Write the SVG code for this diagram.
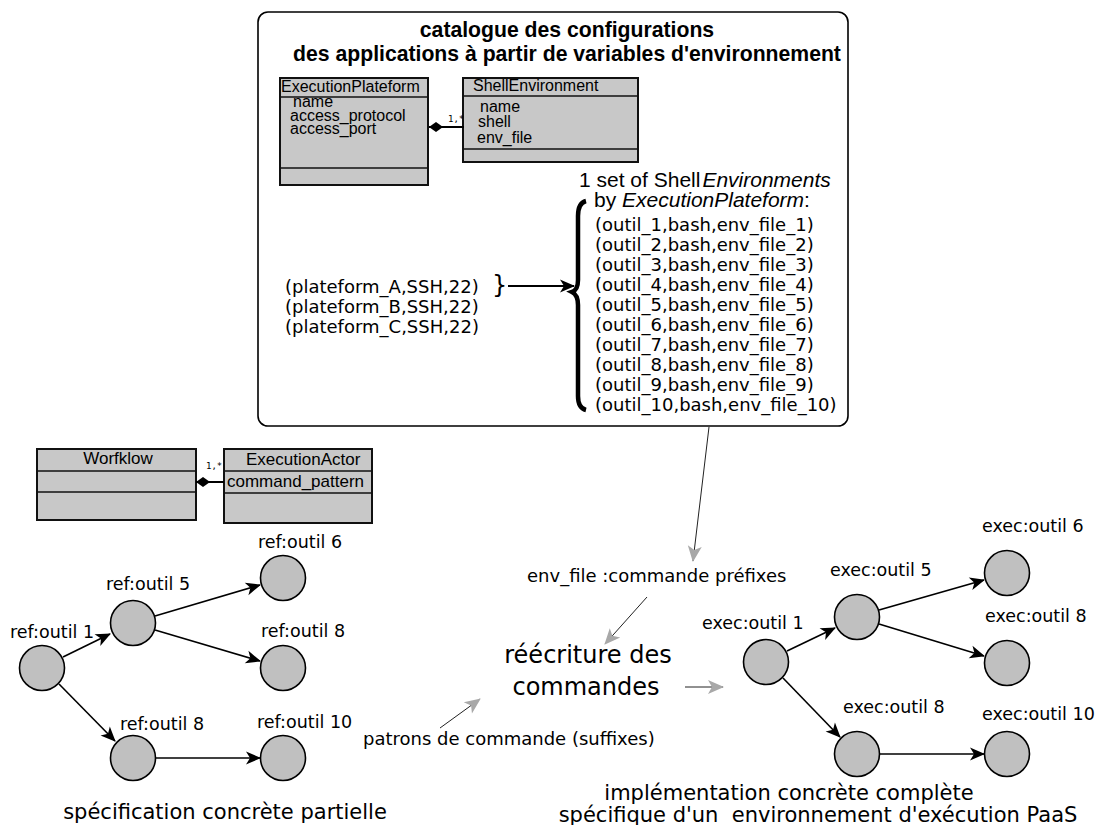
<svg xmlns="http://www.w3.org/2000/svg" width="1098" height="825" viewBox="0 0 1098 825">
<style>
.uml{fill:#c8c8c8;stroke:#111;stroke-width:2}
.sep{stroke:#111;stroke-width:1.6;fill:none}
.ut{font-family:"Liberation Sans",Arial,sans-serif;font-size:16px;fill:#000}
.ut2{font-family:"Liberation Sans",Arial,sans-serif;font-size:17px;fill:#000}
.small{font-family:"DejaVu Sans Mono","Liberation Mono",monospace;font-size:9px;fill:#000}
.dv{font-family:"DejaVu Sans",sans-serif;fill:#000}
.lbl{font-family:"DejaVu Sans",sans-serif;font-size:17.5px;fill:#000}
.node{fill:#c0c0c0;stroke:#000;stroke-width:1.6}
.edge{stroke:#000;stroke-width:1.6;fill:none;marker-end:url(#ah)}
.gedge{stroke:#222;stroke-width:1;fill:none;marker-end:url(#gh)}
</style>
<defs>
<marker id="ah" viewBox="-15 -8 17 16" markerWidth="17" markerHeight="16" markerUnits="userSpaceOnUse" refX="0" refY="0" orient="auto">
<path d="M1,0 L-14,-6.5 L-10,0 L-14,6.5 Z" fill="#000"/>
</marker>
<marker id="gh" viewBox="-16 -8 18 16" markerWidth="18" markerHeight="16" markerUnits="userSpaceOnUse" refX="0" refY="0" orient="auto">
<path d="M1,0 L-15,-7 L-11,0 L-15,7 Z" fill="#a8a8a8"/>
</marker>
<marker id="dia" viewBox="-16 -6 17 12" markerWidth="17" markerHeight="12" markerUnits="userSpaceOnUse" refX="0" refY="0" orient="auto">
<path d="M0,0 L-7,-5 L-14,0 L-7,5 Z" fill="#000"/>
</marker>
</defs>

<g id="catalogue">
<rect x="258" y="12" width="590" height="414" rx="10" ry="10" fill="#fff" stroke="#000" stroke-width="1.6"/>
<text x="567" y="37" text-anchor="middle" font-family="Liberation Sans,Arial,sans-serif" font-weight="bold" font-size="21.2">catalogue des configurations</text>
<text x="567" y="61" text-anchor="middle" font-family="Liberation Sans,Arial,sans-serif" font-weight="bold" font-size="21.2">des applications à partir de variables d'environnement</text>
</g>

<g id="ExecutionPlateform">
<rect class="uml" x="280" y="78" width="148" height="107"/>
<line class="sep" x1="280" y1="97" x2="428" y2="97"/>
<line class="sep" x1="280" y1="168" x2="428" y2="168"/>
<text class="ut" x="281" y="92">ExecutionPlateform</text>
<text class="ut" x="293" y="107">name</text>
<text class="ut" x="290" y="121">access_protocol</text>
<text class="ut" x="290" y="134">access_port</text>
</g>

<g id="ShellEnvironment">
<rect class="uml" x="463" y="78" width="175" height="84"/>
<line class="sep" x1="463" y1="96" x2="638" y2="96"/>
<line class="sep" x1="463" y1="149" x2="638" y2="149"/>
<text class="ut" x="473" y="91">ShellEnvironment</text>
<text class="ut" x="480" y="112">name</text>
<text class="ut" x="478" y="127">shell</text>
<text class="ut" x="477" y="143">env_file</text>
</g>

<g id="set-label">
<text x="579" y="187" font-family="Liberation Sans,Arial,sans-serif" font-size="21">1 set of Shell<tspan dx="2" font-style="italic">Environments</tspan></text>
<text x="594" y="207" font-family="Liberation Sans,Arial,sans-serif" font-size="21">by <tspan font-style="italic">ExecutionPlateform</tspan>:</text>
</g>

<g id="platforms" class="dv" font-size="18">
<text x="285" y="293">(plateform_A,SSH,22)</text>
<text x="285" y="313">(plateform_B,SSH,22)</text>
<text x="285" y="333">(plateform_C,SSH,22)</text>
<text x="492" y="293" font-size="24">}</text>
</g>

<g id="brace">
<path d="M586,201 Q578,203 578,216 L578,280 Q578,290 572,292 Q578,295 578,305 L578,396 Q578,408 586,410" fill="none" stroke="#000" stroke-width="4.5"/>
</g>

<g id="shellenvs" class="dv" font-size="18">
<text x="595" y="231">(outil_1,bash,env_file_1)</text>
<text x="595" y="251">(outil_2,bash,env_file_2)</text>
<text x="595" y="271">(outil_3,bash,env_file_3)</text>
<text x="595" y="291">(outil_4,bash,env_file_4)</text>
<text x="595" y="311">(outil_5,bash,env_file_5)</text>
<text x="595" y="331">(outil_6,bash,env_file_6)</text>
<text x="595" y="351">(outil_7,bash,env_file_7)</text>
<text x="595" y="371">(outil_8,bash,env_file_8)</text>
<text x="595" y="391">(outil_9,bash,env_file_9)</text>
<text x="595" y="411">(outil_10,bash,env_file_10)</text>
</g>

<g id="Workflow">
<rect class="uml" x="37" y="449" width="159" height="71"/>
<line class="sep" x1="37" y1="471" x2="196" y2="471"/>
<line class="sep" x1="37" y1="492" x2="196" y2="492"/>
<text class="ut2" x="118" y="464" text-anchor="middle">Worfklow</text>
</g>

<g id="ExecutionActor">
<rect class="uml" x="224" y="449" width="148" height="74"/>
<line class="sep" x1="224" y1="471" x2="372" y2="471"/>
<line class="sep" x1="224" y1="493" x2="372" y2="493"/>
<text class="ut2" x="246" y="465">ExecutionActor</text>
<text class="ut2" x="227" y="487">command_pattern</text>
</g>

<g id="ref-graph">
<g id="ref1"><circle class="node" cx="42" cy="668" r="22.5"/><text class="lbl" x="10" y="638">ref:outil 1</text></g>
<g id="ref5"><circle class="node" cx="133" cy="623" r="22.5"/><text class="lbl" x="106" y="590">ref:outil 5</text></g>
<g id="ref6"><circle class="node" cx="283" cy="578" r="22.5"/><text class="lbl" x="258" y="548">ref:outil 6</text></g>
<g id="ref8a"><circle class="node" cx="283" cy="668" r="22.5"/><text class="lbl" x="261" y="637">ref:outil 8</text></g>
<g id="ref8b"><circle class="node" cx="133" cy="758" r="22.5"/><text class="lbl" x="120" y="730">ref:outil 8</text></g>
<g id="ref10"><circle class="node" cx="283" cy="758" r="22.5"/><text class="lbl" x="257" y="728">ref:outil 10</text></g>
<text class="dv" x="225" y="819" font-size="21" text-anchor="middle">spécification concrète partielle</text>
</g>

<g id="exec-graph">
<g id="exec1"><circle class="node" cx="766" cy="662" r="22.5"/><text class="lbl" x="702" y="629">exec:outil 1</text></g>
<g id="exec5"><circle class="node" cx="857" cy="617" r="22.5"/><text class="lbl" x="830" y="576">exec:outil 5</text></g>
<g id="exec6"><circle class="node" cx="1007" cy="573" r="22.5"/><text class="lbl" x="982" y="532">exec:outil 6</text></g>
<g id="exec8a"><circle class="node" cx="1007" cy="663" r="22.5"/><text class="lbl" x="985" y="622">exec:outil 8</text></g>
<g id="exec8b"><circle class="node" cx="857" cy="754" r="22.5"/><text class="lbl" x="843" y="713">exec:outil 8</text></g>
<g id="exec10"><circle class="node" cx="1007" cy="754" r="22.5"/><text class="lbl" x="982" y="720">exec:outil 10</text></g>
<text class="dv" x="789" y="800" font-size="21" text-anchor="middle">implémentation concrète complète</text>
<text class="dv" x="818" y="822" font-size="21" text-anchor="middle" xml:space="preserve">spécifique d'un  environnement d'exécution PaaS</text>
</g>

<g id="rewrite">
<text class="dv" x="588" y="663" font-size="24" text-anchor="middle">réécriture des</text>
<text class="dv" x="586" y="695" font-size="24" text-anchor="middle">commandes</text>
<text class="dv" x="527" y="582" font-size="18">env_file :commande préfixes</text>
<text class="dv" x="363" y="745" font-size="18">patrons de commande (suffixes)</text>
</g>

<g id="connectors">
<line x1="464" y1="127" x2="429" y2="127" stroke="#000" stroke-width="2" marker-end="url(#dia)"/>
<text class="small" x="448" y="122">1,*</text>
<line x1="224" y1="482" x2="196" y2="482" stroke="#000" stroke-width="2" marker-end="url(#dia)"/>
<text class="small" x="206" y="469">1,*</text>
<line x1="508" y1="286" x2="574" y2="286" stroke="#000" stroke-width="2" marker-end="url(#ah)"/>

<line class="edge" x1="63" y1="657" x2="110" y2="634"/>
<line class="edge" x1="155" y1="616" x2="260" y2="585"/>
<line class="edge" x1="155" y1="630" x2="260" y2="661"/>
<line class="edge" x1="59" y1="684" x2="115" y2="741"/>
<line class="edge" x1="156" y1="758" x2="260" y2="758"/>

<line class="edge" x1="787" y1="651" x2="835" y2="628"/>
<line class="edge" x1="879" y1="610" x2="984" y2="580"/>
<line class="edge" x1="879" y1="624" x2="984" y2="656"/>
<line class="edge" x1="783" y1="678" x2="840" y2="737"/>
<line class="edge" x1="880" y1="754" x2="984" y2="754"/>

<line class="gedge" x1="709" y1="427" x2="693" y2="561"/>
<line class="gedge" x1="647" y1="597" x2="605" y2="644"/>
<line class="gedge" x1="685" y1="687" x2="723" y2="687"/>
<line class="gedge" x1="440" y1="728" x2="480" y2="699"/>
</g>
</svg>
